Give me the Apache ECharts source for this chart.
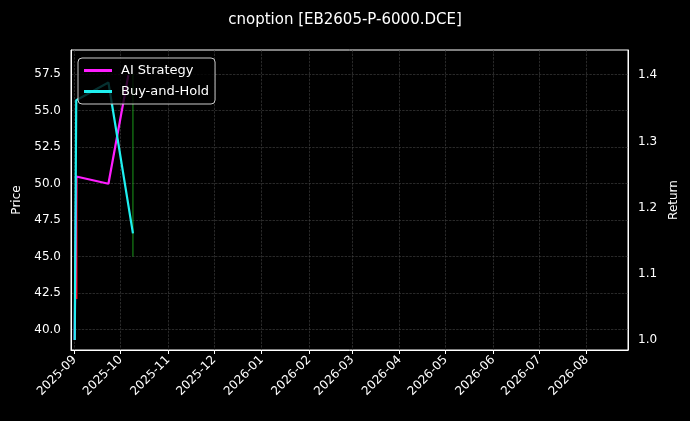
<!DOCTYPE html>
<html><head><meta charset="utf-8">
<script src="https://cdn.jsdelivr.net/npm/echarts@6/dist/echarts.min.js"></script>
<style>html,body{margin:0;padding:0;background:#000}#c{width:690px;height:421px}</style>
</head><body><div id="c"></div>
<script>
const titleText = 'cnoption [EB2605-P-6000.DCE]';
const aiDates = ['2025-09-01', '2025-09-02', '2025-09-23', '2025-10-06'];
const aiReturn = [1.00, 1.247, 1.236, 1.40];
const bhDates = ['2025-09-01', '2025-09-02', '2025-09-23', '2025-10-09'];
const bhReturn = [1.00, 1.362, 1.389, 1.161];
const priceDownDates = ['2025-09-02', '2025-09-02'];
const priceDown = [50.4, 42.1];
const priceUpDates = ['2025-10-09', '2025-10-09'];
const priceUp = [45.0, 57.5];
const priceTicks = [40, 42.5, 45, 47.5, 50, 52.5, 55, 57.5];
const returnTicks = [1.0, 1.1, 1.2, 1.3, 1.4];

const pair = (d, v) => d.map((x, i) => [x, v[i]]);
const txt = '#ffffff', grid = '#444';
const L = 71, R = 62, T = 50, B = 71;
const rMin = 0.985, rMax = 1.438;
const pPerUnitL = (350 - 50) / (59.16 - 38.6);
const pPerUnitR = (350 - 50) / (rMax - rMin);

const chart = echarts.init(document.getElementById('c'));
chart.setOption({
  backgroundColor: '#000',
  animation: false,
  title: { text: titleText, left: 'center', top: 8, textStyle: { color: txt, fontSize: 15, fontWeight: 'normal', fontFamily: 'DejaVu Sans' } },
  legend: {
    left: 78, top: 58, orient: 'vertical', itemGap: 8, itemWidth: 28, itemHeight: 3, icon: 'rect',
    backgroundColor: 'rgba(0,0,0,0.8)', borderColor: '#ccc', borderWidth: 1, borderRadius: 4, padding: [6, 6, 6, 6],
    textStyle: { color: txt, fontSize: 13, fontFamily: 'DejaVu Sans', padding: [0, 0, 0, 4] },
    data: ['AI Strategy', 'Buy-and-Hold']
  },
  grid: [
    { left: L, right: R, top: T, bottom: B, show: true, borderColor: txt, borderWidth: 1, backgroundColor: 'transparent' },
    { left: L, right: R, top: 50 - (60 - 59.16) * pPerUnitL, bottom: 421 - (350 + (38.6 - 37.5) * pPerUnitL) },
    { left: L, right: R, top: 50 - (1.5 - rMax) * pPerUnitR, bottom: 421 - (350 + (rMin - 0.9) * pPerUnitR) }
  ],
  xAxis: [
    { type: 'time', gridIndex: 0, min: '2025-08-29 14:00', max: '2026-08-28', splitNumber: 12,
      axisLine: { lineStyle: { color: txt } }, axisTick: { show: true, length: 4, lineStyle: { color: txt } },
      axisLabel: { color: txt, rotate: 45, fontSize: 12, fontFamily: 'DejaVu Sans', hideOverlap: false,
        formatter: v => { const d = new Date(v); return d.getFullYear() + '-' + String(d.getMonth() + 1).padStart(2, '0'); } },
      splitLine: { show: true, lineStyle: { color: grid, type: 'dashed', width: 0.6 } } },
    { type: 'value', gridIndex: 1, show: false },
    { type: 'value', gridIndex: 2, show: false }
  ],
  yAxis: [
    { type: 'value', gridIndex: 0, min: 38.6, max: 59.16, name: 'Price', nameLocation: 'middle', nameGap: 48,
      nameTextStyle: { color: txt, fontSize: 12, fontFamily: 'DejaVu Sans' },
      axisLine: { show: true, lineStyle: { color: txt } }, axisTick: { show: false }, axisLabel: { show: false }, splitLine: { show: false } },
    { type: 'value', gridIndex: 0, position: 'right', min: rMin, max: rMax, name: 'Return', nameLocation: 'middle', nameGap: 40,
      nameTextStyle: { color: txt, fontSize: 12, fontFamily: 'DejaVu Sans' },
      axisLine: { show: true, lineStyle: { color: txt } }, axisTick: { show: false }, axisLabel: { show: false }, splitLine: { show: false } },
    { type: 'value', gridIndex: 1, min: 37.5, max: 60, interval: 2.5,
      axisLine: { show: false }, axisTick: { show: false },
      axisLabel: { color: txt, fontSize: 12, fontFamily: 'DejaVu Sans', showMinLabel: false, showMaxLabel: false, formatter: v => v.toFixed(1), margin: 10 },
      splitLine: { show: true, showMinLine: false, showMaxLine: false, lineStyle: { color: grid, type: 'dashed', width: 0.6 } } },
    { type: 'value', gridIndex: 2, position: 'right', min: 0.9, max: 1.5, interval: 0.1,
      axisLine: { show: false }, axisTick: { show: false },
      axisLabel: { color: txt, fontSize: 12, fontFamily: 'DejaVu Sans', showMinLabel: false, showMaxLabel: false, formatter: v => v.toFixed(1), margin: 10 },
      splitLine: { show: false } }
  ],
  series: [
    { name: 'PriceDown', type: 'line', xAxisIndex: 0, yAxisIndex: 0, data: pair(priceDownDates, priceDown), showSymbol: false, lineStyle: { color: '#ff0000', width: 2.5 }, silent: true },
    { name: 'PriceUp', type: 'line', xAxisIndex: 0, yAxisIndex: 0, data: pair(priceUpDates, priceUp), showSymbol: false, lineStyle: { color: '#1a9a1a', width: 1 }, silent: true },
    { name: 'AI Strategy', type: 'line', xAxisIndex: 0, yAxisIndex: 1, data: pair(aiDates, aiReturn), showSymbol: false, itemStyle: { color: '#ff1dff' }, lineStyle: { color: '#ff1dff', width: 2.2 } },
    { name: 'Buy-and-Hold', type: 'line', xAxisIndex: 0, yAxisIndex: 1, data: pair(bhDates, bhReturn), showSymbol: false, itemStyle: { color: '#1ff0f0' }, lineStyle: { color: '#1ff0f0', width: 2.2 } }
  ]
});
</script></body></html>
